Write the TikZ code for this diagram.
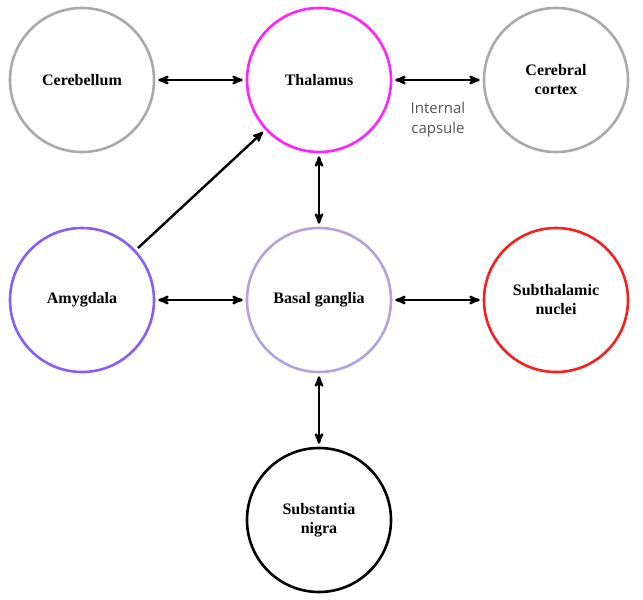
\documentclass[tikz,border=0pt]{standalone}
\usepackage{fontspec}
\setmainfont{Liberation Serif}
\newfontfamily\capsfont{Open Sans}
\usetikzlibrary{arrows,positioning}
\definecolor{grayring}{HTML}{AAAAAA}
\definecolor{thalring}{HTML}{FF22FF}
\definecolor{amyring}{HTML}{8A5CF5}
\definecolor{basalring}{HTML}{B4A2D8}
\definecolor{subring}{HTML}{F42020}
\definecolor{capsgray}{HTML}{555555}
\begin{document}
\begin{tikzpicture}[>=stealth',node distance=237pt]
  \tikzstyle{region}=[circle,line width=2.6pt,minimum size=144pt,inner sep=0pt,align=center,font=\fontsize{16}{19}\selectfont\bfseries,text=black]
  \tikzstyle{link}=[<->,line width=2.4pt,shorten >=3pt,shorten <=3pt]
  \useasboundingbox (-82pt,-520pt) rectangle (561pt,80pt);

  \node[region,draw=grayring]  (cb)                     {Cerebellum};
  \node[region,draw=thalring]  (th) [right of=cb]       {Thalamus};
  \node[region,draw=grayring]  (cx) [right of=th]       {Cerebral\\cortex};
  \node[region,draw=amyring]   (am) [below of=cb,node distance=220pt] {Amygdala};
  \node[region,draw=basalring] (bg) [right of=am]       {Basal ganglia};
  \node[region,draw=subring]   (sn) [right of=bg]       {Subthalamic\\nuclei};
  \node[region,draw=black]     (ni) [below of=bg,node distance=220pt] {Substantia\\nigra};

  \node[font=\capsfont\fontsize{15}{20}\selectfont,text=capsgray,align=center] (ic) at ([xshift=119pt,yshift=-40pt]th.center) {Internal\\capsule};

  \draw[link] (cb) -- (th);
  \draw[link] (th) -- (cx);
  \draw[link] (th) -- (bg);
  \draw[link] (am) -- (bg);
  \draw[link] (bg) -- (sn);
  \draw[link] (bg) -- (ni);
  \draw[link,<-] (th) -- (am);
\end{tikzpicture}
\end{document}
